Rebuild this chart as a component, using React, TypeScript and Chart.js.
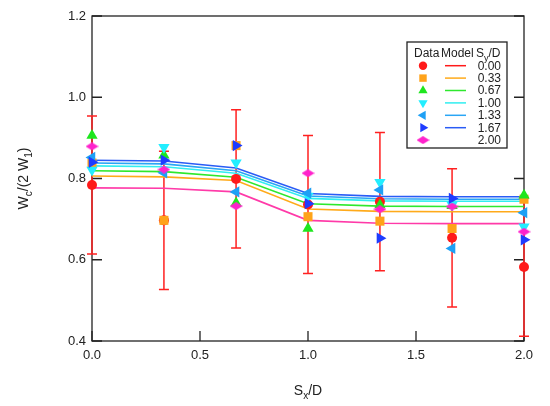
import { useEffect, useRef } from "react"
import { Chart, registerables } from "chart.js"

Chart.register(...registerables)

// S_x/D positions
const sxD = [0, 0.333, 0.667, 1.0, 1.333, 1.667, 2.0]
const syLabels = ["0.00", "0.33", "0.67", "1.00", "1.33", "1.67", "2.00"]
const xTicks = [0, 0.5, 1.0, 1.5, 2.0]
const yTicks = [0.4, 0.6, 0.8, 1.0, 1.2]

// measured data, one array per S_y/D
const data000 = [0.784, 0.697, 0.799, 0.736, 0.743, 0.654, 0.582]
const data033 = [0.838, 0.697, 0.881, 0.706, 0.695, 0.677, 0.749]
const data067 = [0.906, 0.857, 0.740, 0.677, 0.735, 0.733, 0.759]
const data100 = [0.821, 0.877, 0.839, 0.757, 0.791, 0.735, 0.681]
const data133 = [0.852, 0.814, 0.767, 0.764, 0.772, 0.628, 0.716]
const data167 = [0.840, 0.845, 0.881, 0.738, 0.653, 0.751, 0.649]
const data200 = [0.879, 0.822, 0.732, 0.813, 0.724, 0.731, 0.669]

// +/- error on the S_y/D = 0 data
const err000 = [0.17, 0.17, 0.17, 0.17, 0.17, 0.17, 0.17]

// model curves
const model000 = [0.777, 0.776, 0.767, 0.697, 0.690, 0.689, 0.689]
const model033 = [0.806, 0.804, 0.795, 0.725, 0.719, 0.718, 0.718]
const model067 = [0.819, 0.817, 0.803, 0.738, 0.732, 0.731, 0.731]
const model100 = [0.831, 0.829, 0.813, 0.751, 0.745, 0.744, 0.744]
const model133 = [0.838, 0.836, 0.819, 0.757, 0.750, 0.749, 0.749]
const model167 = [0.845, 0.843, 0.826, 0.763, 0.756, 0.755, 0.755]

const FONT = "'Liberation Sans', Arial, sans-serif"

type Series = {
  label: string
  data: number[]
  model: number[] | null
  color: string
  lineColor: string
  style: string
  rotation: number
  radius: number
}

const series: Series[] = [
  { label: syLabels[0], data: data000, model: model000, color: "#ff1a1a", lineColor: "#ff3aa8", style: "circle", rotation: 0, radius: 5 },
  { label: syLabels[1], data: data033, model: model033, color: "#ffa31a", lineColor: "#ffaa1a", style: "rect", rotation: 0, radius: 6.4 },
  { label: syLabels[2], data: data067, model: model067, color: "#1ee61e", lineColor: "#2ee82e", style: "triangle", rotation: 0, radius: 6.5 },
  { label: syLabels[3], data: data100, model: model100, color: "#22eeff", lineColor: "#30eef0", style: "triangle", rotation: 180, radius: 6.5 },
  { label: syLabels[4], data: data133, model: model133, color: "#1ea0f5", lineColor: "#2aa6f5", style: "triangle", rotation: 270, radius: 6.5 },
  { label: syLabels[5], data: data167, model: model167, color: "#1e3cff", lineColor: "#2a5cf5", style: "triangle", rotation: 90, radius: 6.5 },
  { label: syLabels[6], data: data200, model: null, color: "#ff22cc", lineColor: "#ff22cc", style: "diamond", rotation: 0, radius: 6 },
]

function makeDiamond(color: string) {
  const c = document.createElement("canvas")
  c.width = 13
  c.height = 8
  const g = c.getContext("2d")!
  g.fillStyle = color
  g.beginPath()
  g.moveTo(6.5, 0)
  g.lineTo(13, 4)
  g.lineTo(6.5, 8)
  g.lineTo(0, 4)
  g.closePath()
  g.fill()
  return c
}

function drawMarker(ctx: CanvasRenderingContext2D, s: Series, x: number, y: number, diamond: HTMLCanvasElement) {
  ctx.save()
  ctx.fillStyle = s.color
  ctx.beginPath()
  if (s.style === "circle") {
    ctx.arc(x, y, s.radius, 0, Math.PI * 2)
  } else if (s.style === "rect") {
    const h = s.radius * Math.SQRT1_2
    ctx.rect(x - h, y - h, 2 * h, 2 * h)
  } else if (s.style === "triangle") {
    let rad = (s.rotation * Math.PI) / 180
    ctx.moveTo(x + Math.sin(rad) * s.radius, y - Math.cos(rad) * s.radius)
    rad += (2 * Math.PI) / 3
    ctx.lineTo(x + Math.sin(rad) * s.radius, y - Math.cos(rad) * s.radius)
    rad += (2 * Math.PI) / 3
    ctx.lineTo(x + Math.sin(rad) * s.radius, y - Math.cos(rad) * s.radius)
    ctx.closePath()
  } else {
    ctx.drawImage(diamond, x - 6.5, y - 4)
    ctx.restore()
    return
  }
  ctx.fill()
  ctx.restore()
}

// text with subscripts: parts are [text, isSub]
function drawSubText(ctx: CanvasRenderingContext2D, parts: [string, boolean][], x: number, y: number, size: number, align: "left" | "center") {
  const subSize = Math.round(size * 0.72)
  let w = 0
  parts.forEach(([t, sub]) => {
    ctx.font = `${sub ? subSize : size}px ${FONT}`
    w += ctx.measureText(t).width
  })
  let cx = align === "center" ? x - w / 2 : x
  ctx.textAlign = "left"
  ctx.textBaseline = "alphabetic"
  parts.forEach(([t, sub]) => {
    ctx.font = `${sub ? subSize : size}px ${FONT}`
    ctx.fillText(t, cx, sub ? y + size * 0.3 : y)
    cx += ctx.measureText(t).width
  })
}

const framePlugin = {
  id: "frame",
  beforeDatasetsDraw(chart: any) {
    const { ctx, chartArea: a, scales } = chart
    ctx.save()
    ctx.strokeStyle = "#222"
    ctx.lineWidth = 1.3
    ctx.strokeRect(a.left, a.top, a.right - a.left, a.bottom - a.top)
    ctx.beginPath()
    yTicks.forEach(v => {
      const py = scales.y.getPixelForValue(v)
      ctx.moveTo(a.left, py)
      ctx.lineTo(a.left + 10, py)
      ctx.moveTo(a.right, py)
      ctx.lineTo(a.right - 10, py)
    })
    xTicks.forEach(v => {
      const px = scales.x.getPixelForValue(v)
      ctx.moveTo(px, a.bottom)
      ctx.lineTo(px, a.bottom - 10)
    })
    ctx.stroke()

    // error bars on the S_y/D = 0 data
    ctx.strokeStyle = "#ff2020"
    ctx.lineWidth = 1.5
    ctx.beginPath()
    sxD.forEach((sx, i) => {
      const px = scales.x.getPixelForValue(sx)
      const top = scales.y.getPixelForValue(data000[i] + err000[i])
      const bot = scales.y.getPixelForValue(data000[i] - err000[i])
      ctx.moveTo(px, top)
      ctx.lineTo(px, bot)
      ctx.moveTo(px - 5, top)
      ctx.lineTo(px + 5, top)
      ctx.moveTo(px - 5, bot)
      ctx.lineTo(px + 5, bot)
    })
    ctx.stroke()
    ctx.restore()
  },
}

function makeTextPlugin(diamond: HTMLCanvasElement) {
  return {
    id: "texts",
    afterDraw(chart: any) {
      const { ctx, chartArea: a } = chart
      ctx.save()
      ctx.fillStyle = "#222"
      // axis titles
      drawSubText(ctx, [["S", false], ["x", true], ["/D", false]], (a.left + a.right) / 2, 395, 14, "center")
      ctx.save()
      ctx.translate(28, (a.top + a.bottom) / 2)
      ctx.rotate(-Math.PI / 2)
      drawSubText(ctx, [["W", false], ["c", true], ["/(2 W", false], ["1", true], [")", false]], 0, 0, 14, "center")
      ctx.restore()

      // legend box
      const lx = 407, ly = 42, lw = 100, lh = 106
      ctx.fillStyle = "#fff"
      ctx.fillRect(lx, ly, lw, lh)
      ctx.strokeStyle = "#222"
      ctx.lineWidth = 1.3
      ctx.strokeRect(lx, ly, lw, lh)
      ctx.fillStyle = "#222"
      ctx.font = `12px ${FONT}`
      ctx.textBaseline = "alphabetic"
      ctx.textAlign = "left"
      ctx.fillText("Data", 414, 57)
      ctx.fillText("Model", 441, 57)
      drawSubText(ctx, [["S", false], ["y", true], ["/D", false]], 476, 57, 12, "left")
      series.forEach((s, i) => {
        const ry = 65.7 + i * 12.4
        drawMarker(ctx, { ...s, radius: s.style === "circle" ? 4.2 : s.radius * 0.82 }, 423, ry, diamond)
        if (s.model) {
          ctx.strokeStyle = i === 0 ? "#ff1a1a" : s.lineColor
          ctx.lineWidth = 1.5
          ctx.beginPath()
          ctx.moveTo(445, ry)
          ctx.lineTo(466, ry)
          ctx.stroke()
        }
        ctx.fillStyle = "#222"
        ctx.font = `12px ${FONT}`
        ctx.textAlign = "right"
        ctx.textBaseline = "middle"
        ctx.fillText(s.label, 501, ry + 0.5)
      })
      ctx.restore()
    },
  }
}

export default function App() {
  const canvasRef = useRef<HTMLCanvasElement>(null)
  const chartRef = useRef<Chart | null>(null)

  useEffect(() => {
    if (!canvasRef.current) return
    const ctx = canvasRef.current.getContext("2d")
    if (!ctx) return
    chartRef.current?.destroy()

    const diamond = makeDiamond("#ff22cc")

    // higher order is drawn first, so lines go under, later series on top
    const lineSets = series
      .filter(s => s.model)
      .map(s => ({
        label: "model " + s.label,
        data: sxD.map((x, i) => ({ x, y: s.model![i] })),
        showLine: true,
        borderColor: s.lineColor,
        borderWidth: 1.6,
        pointRadius: 0,
        fill: false,
        clip: false as any,
        order: 20,
      }))

    const pointSets = series.map((s, i) => ({
      label: "data " + s.label,
      data: sxD.map((x, j) => ({ x, y: s.data[j] })),
      showLine: false,
      pointStyle: s.style === "diamond" ? (diamond as any) : s.style,
      rotation: s.rotation,
      pointRadius: s.radius,
      pointBackgroundColor: s.color,
      pointBorderColor: s.color,
      pointBorderWidth: 0,
      clip: false as any,
      order: 10 - i,
    }))

    chartRef.current = new Chart(ctx, {
      type: "scatter",
      data: { datasets: [...lineSets, ...pointSets] as any },
      options: {
        animation: false,
        responsive: true,
        maintainAspectRatio: false,
        layout: { padding: { top: 16, right: 26, left: 0, bottom: 0 } },
        plugins: { legend: { display: false }, tooltip: { enabled: false } },
        scales: {
          x: {
            type: "linear",
            min: 0,
            max: 2,
            afterFit: (s: any) => { s.height = 65 },
            afterBuildTicks: (s: any) => { s.ticks = xTicks.map(v => ({ value: v })) },
            grid: { display: false, drawTicks: false },
            border: { display: false },
            ticks: { padding: 7, color: "#222", font: { family: FONT, size: 13 }, callback: (v: any) => Number(v).toFixed(1), maxRotation: 0 },
          },
          y: {
            type: "linear",
            min: 0.4,
            max: 1.2,
            afterFit: (s: any) => { s.width = 92 },
            afterBuildTicks: (s: any) => { s.ticks = yTicks.map(v => ({ value: v })) },
            grid: { display: false, drawTicks: false },
            border: { display: false },
            ticks: { padding: 6, color: "#222", font: { family: FONT, size: 13 }, callback: (v: any) => Number(v).toFixed(1) },
          },
        },
      },
      plugins: [framePlugin, makeTextPlugin(diamond)],
    })

    return () => { chartRef.current?.destroy() }
  }, [])

  return (
    <div style={{ position: "fixed", left: 0, top: 0, width: 550, height: 406, background: "#fff" }}>
      <canvas ref={canvasRef} aria-label="Wc/(2 W1) versus Sx/D" role="img" />
    </div>
  )
}
